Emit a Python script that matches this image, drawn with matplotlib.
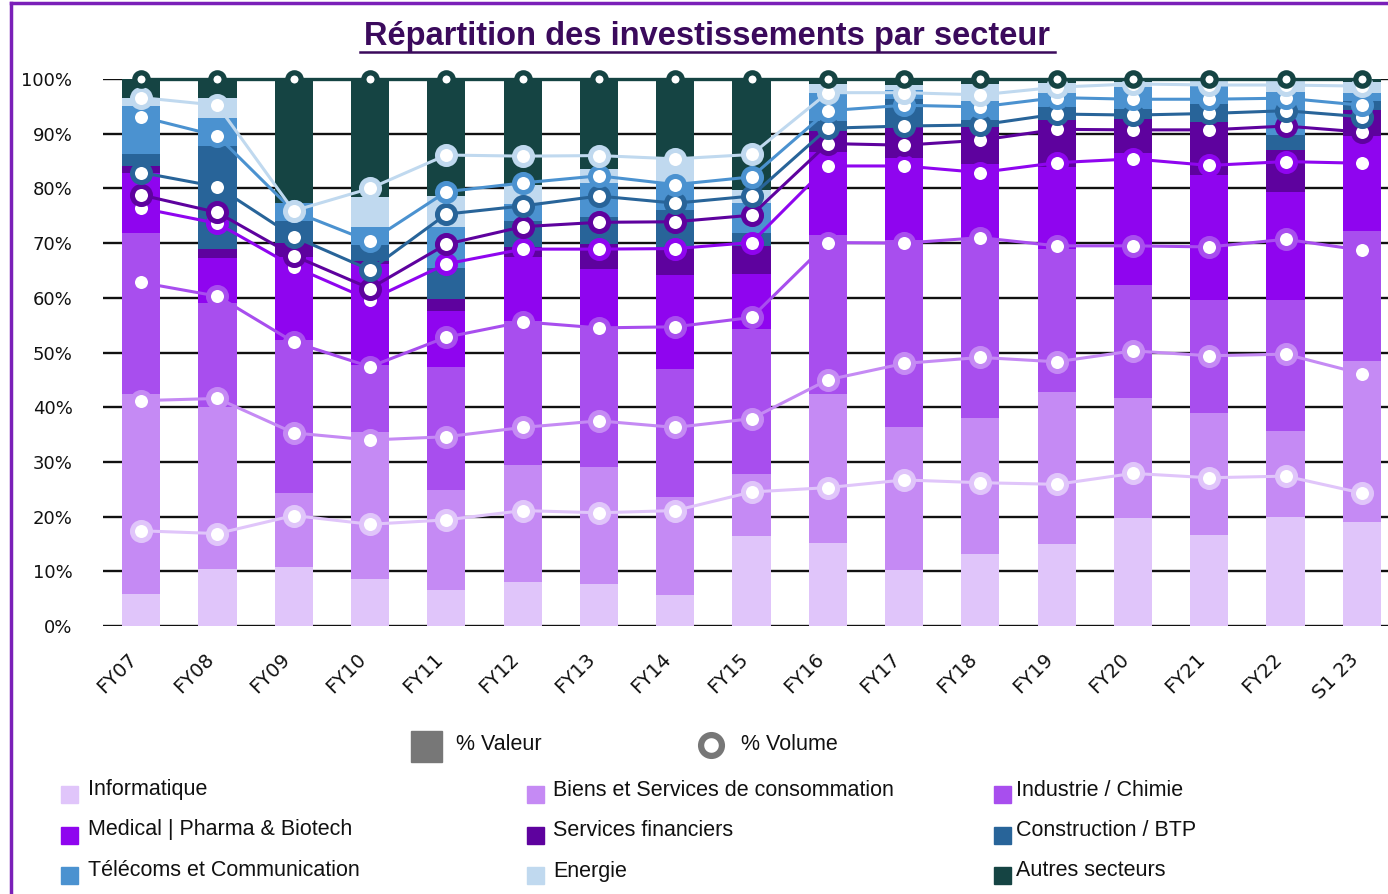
import matplotlib
matplotlib.use("Agg")
import matplotlib.pyplot as plt
from matplotlib.patches import Rectangle
from matplotlib.lines import Line2D
import numpy as np

# ---------------- data ----------------
categories = ["FY07", "FY08", "FY09", "FY10", "FY11", "FY12", "FY13", "FY14", "FY15",
              "FY16", "FY17", "FY18", "FY19", "FY20", "FY21", "FY22", "S1 23"]

sectors = ["Informatique", "Biens et Services de consommation", "Industrie / Chimie",
           "Medical | Pharma & Biotech", "Services financiers", "Construction / BTP",
           "Télécoms et Communication", "Energie", "Autres secteurs"]

# % Valeur (bar segments)
val_info   = [5.9, 10.4, 10.7, 8.6, 6.5, 8.1, 7.7, 5.7, 16.4, 15.2, 10.2, 13.1, 15.0, 19.8, 16.6, 20.0, 19.1]
val_biens  = [36.5, 29.7, 13.6, 26.9, 18.4, 21.3, 21.4, 17.9, 11.4, 27.3, 26.1, 24.9, 27.7, 21.9, 22.4, 15.7, 29.3]
val_indus  = [29.5, 18.9, 28.0, 12.2, 22.5, 26.3, 25.3, 23.3, 26.5, 28.9, 34.2, 32.9, 26.3, 20.6, 20.6, 23.9, 23.8]
val_med    = [10.9, 8.3, 15.2, 18.5, 10.2, 11.8, 10.8, 17.3, 10.1, 15.3, 15.0, 13.5, 15.0, 24.2, 22.8, 19.7, 17.3]
val_sf     = [1.3, 1.7, 2.6, 0.6, 2.1, 1.7, 4.6, 5.0, 5.1, 3.8, 5.7, 6.8, 8.5, 6.2, 9.7, 7.7, 4.8]
val_constr = [2.2, 18.8, 4.0, 2.9, 5.7, 4.8, 4.9, 6.9, 2.4, 1.9, 5.1, 1.3, 2.3, 1.8, 3.3, 2.8, 1.7]
val_tel    = [8.8, 5.1, 3.2, 3.3, 7.6, 3.1, 6.3, 4.7, 5.5, 5.0, 1.6, 3.4, 2.6, 4.0, 3.3, 7.9, 1.4]
val_ener   = [1.4, 3.7, 0.0, 5.5, 5.7, 3.5, 2.5, 4.6, 2.3, 1.7, 1.0, 3.2, 1.8, 1.0, 0.9, 1.9, 2.0]
val_autres = [3.5, 3.4, 22.7, 21.5, 21.3, 19.4, 16.5, 14.6, 20.3, 0.9, 1.1, 0.9, 0.8, 0.5, 0.4, 0.4, 0.6]

# % Volume (cumulative position of each sector's line)
vol_info   = [17.4, 16.9, 20.2, 18.6, 19.4, 21.1, 20.7, 21.1, 24.5, 25.3, 26.7, 26.2, 25.9, 27.9, 27.1, 27.4, 24.3]
vol_biens  = [41.2, 41.6, 35.3, 34.0, 34.6, 36.3, 37.5, 36.3, 37.9, 45.0, 48.0, 49.1, 48.3, 50.3, 49.4, 49.7, 46.1]
vol_indus  = [62.8, 60.3, 51.9, 47.4, 52.8, 55.6, 54.5, 54.7, 56.4, 70.1, 70.0, 71.0, 69.5, 69.5, 69.3, 70.7, 68.7]
vol_med    = [76.4, 73.6, 65.7, 59.6, 66.2, 68.9, 68.9, 69.0, 70.1, 84.1, 84.1, 82.9, 84.7, 85.4, 84.2, 84.9, 84.6]
vol_sf     = [78.8, 75.6, 67.7, 61.7, 69.8, 73.0, 73.8, 73.9, 75.1, 88.2, 87.9, 88.8, 90.8, 90.7, 90.7, 91.4, 90.3]
vol_constr = [82.9, 80.3, 71.2, 65.1, 75.3, 76.8, 78.6, 77.3, 78.6, 91.0, 91.4, 91.6, 93.6, 93.4, 93.7, 94.2, 93.1]
vol_tel    = [93.1, 89.6, 75.8, 70.3, 79.4, 81.0, 82.3, 80.7, 82.1, 94.2, 95.2, 94.9, 96.6, 96.3, 96.3, 96.5, 95.2]
vol_ener   = [96.6, 95.2, 75.9, 80.0, 86.1, 85.9, 86.0, 85.4, 86.2, 97.5, 97.5, 97.1, 98.5, 99.1, 98.9, 98.9, 98.7]
vol_autres = [100, 100, 100, 100, 100, 100, 100, 100, 100, 100, 100, 100, 100, 100, 100, 100, 100]

y_ticks = [0, 10, 20, 30, 40, 50, 60, 70, 80, 90, 100]
title = "Répartition des investissements par secteur"

colors = ["#e0c5fa", "#c58af4", "#a84eee", "#8f05ef", "#5e029e",
          "#286499", "#4b92d0", "#c0d9ef", "#154443"]

values = [val_info, val_biens, val_indus, val_med, val_sf, val_constr, val_tel, val_ener, val_autres]
volumes = [vol_info, vol_biens, vol_indus, vol_med, vol_sf, vol_constr, vol_tel, vol_ener, vol_autres]

# ---------------- figure ----------------
W, H = 1388, 894
fig = plt.figure(figsize=(W / 100, H / 100), dpi=100)
fig.patch.set_facecolor("white")

ax = fig.add_axes([103 / W, 1 - 626 / H, 1297 / W, 547 / H])
x = np.arange(len(categories))

bottom = np.zeros(len(categories))
for vals, col in zip(values, colors):
    v = np.array(vals)
    ax.bar(x, v, bottom=bottom, width=0.5, color=col, edgecolor="none", zorder=2)
    bottom += v

for i, (vol, col) in enumerate(zip(volumes, colors)):
    if i == len(volumes) - 1:
        ax.plot(x, vol, color=col, lw=2.4, marker="o", ms=9.6, mfc="white", mec=col,
                mew=3.8, clip_on=False, zorder=5 + i)
    else:
        ax.plot(x, vol, color=col, lw=2.2, marker="o", ms=13, mfc="white", mec=col,
                mew=3.6, clip_on=False, zorder=5 + i)

ax.set_xlim(-0.5, len(categories) - 0.5)
ax.set_ylim(0, 100)
ax.set_yticks(y_ticks)
ax.set_yticklabels([f"{t}%" for t in y_ticks], fontsize=13, family="DejaVu Sans", color="#111")
ax.yaxis.grid(True, color="#111111", lw=1.7, zorder=1)
ax.set_axisbelow(True)
ax.set_xticks(x)
ax.set_xticklabels(categories, rotation=45, ha="right", va="top", fontsize=14,
                   family="DejaVu Sans", color="#111")
ax.tick_params(axis="y", length=0, pad=22)
ax.tick_params(axis="x", length=0, pad=17)
for s in ax.spines.values():
    s.set_visible(False)

# title
fig.text(707 / W, 1 - 37 / H, title, ha="center", va="center", fontsize=23.5,
         fontweight="bold", color="#3b0a5c", family="Liberation Sans")
fig.add_artist(Line2D([360 / W, 1055 / W], [1 - 52 / H, 1 - 52 / H], color="#3b0a5c", lw=1.8))

# frame border (purple, left + top)
fig.add_artist(Line2D([11 / W, 11 / W], [0, 1 - 3 / H], color="#7a1fb8", lw=2.5))
fig.add_artist(Line2D([11 / W, 1], [1 - 3 / H, 1 - 3 / H], color="#7a1fb8", lw=2.5))

# top legend
fig.add_artist(Rectangle((411 / W, 1 - 762 / H), 31 / W, 31 / H, color="#777777",
                         transform=fig.transFigure))
fig.text(456 / W, 1 - 745 / H, "% Valeur", ha="left", va="center", fontsize=15.5,
         family="Liberation Sans", color="#111")
fig.add_artist(Line2D([711 / W], [1 - 745 / H], marker="o", ms=15, mfc="white",
                      mec="#777777", mew=4.5, ls="none"))
fig.text(741 / W, 1 - 744 / H, "% Volume", ha="left", va="center", fontsize=15.5,
         family="Liberation Sans", color="#111")

# sector legend (3 x 3)
col_sq = [61, 527, 994]
col_tx = [88, 553, 1016]
row_sq = [786, 827, 867]
row_tx = [790, 830, 871]
for k, (name, col) in enumerate(zip(sectors, colors)):
    r, c = divmod(k, 3)
    fig.add_artist(Rectangle((col_sq[c] / W, 1 - (row_sq[r] + 17) / H), 17 / W, 17 / H,
                             color=col, transform=fig.transFigure))
    fig.text(col_tx[c] / W, 1 - row_tx[r] / H, name, ha="left", va="center", fontsize=15.5,
             family="Liberation Sans", color="#111")

fig.savefig("out.png", dpi=100)
